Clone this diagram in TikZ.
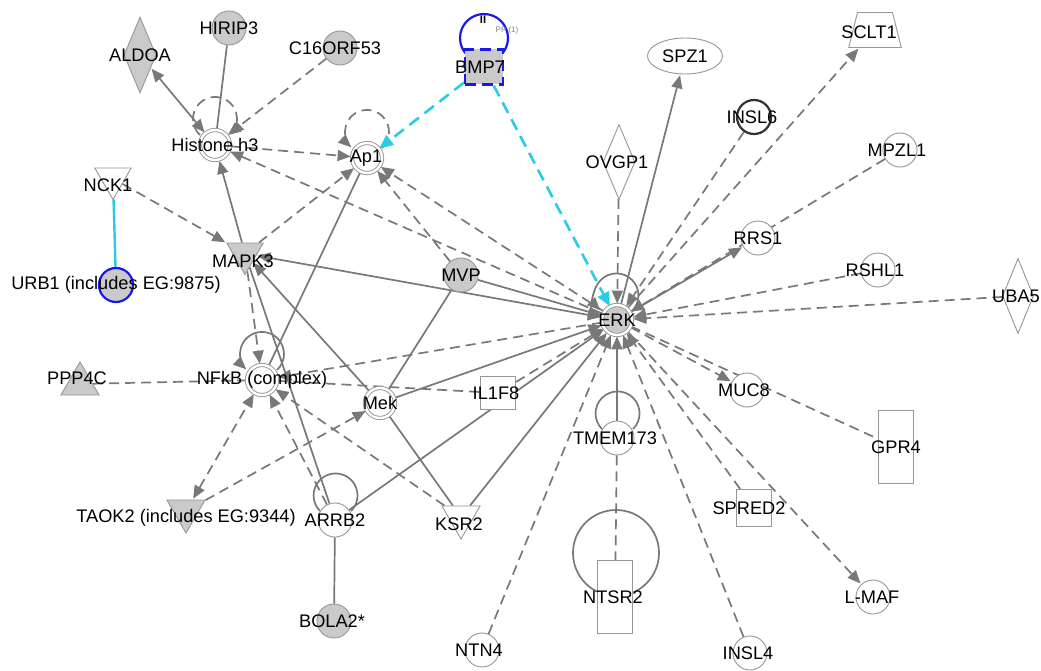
\documentclass[tikz,border=0pt]{standalone}
\usepackage{fontspec}
\setmainfont{Liberation Sans}
\usetikzlibrary{shapes.geometric,arrows.meta}
\definecolor{edgegray}{RGB}{120,120,120}
\definecolor{rimgray}{RGB}{150,150,150}
\definecolor{fillgray}{RGB}{202,202,202}
\definecolor{ipablue}{RGB}{25,25,235}
\definecolor{ipacyan}{RGB}{40,205,225}
\pgfdeclarelayer{background}
\pgfsetlayers{background,main}

\begin{document}
\begin{tikzpicture}[x=1pt,y=1pt,font=\fontsize{18.2}{21}\selectfont,
  gene/.style={draw=rimgray,line width=0.9pt,fill=white,inner sep=0pt},
  circ/.style={gene,circle,minimum size=34pt},
  cplx/.style={gene,circle,minimum size=30pt,double=white,double distance=2.4pt},
  tridown/.style={gene,regular polygon,regular polygon sides=3,shape border rotate=180,minimum size=42pt},
  triup/.style={gene,regular polygon,regular polygon sides=3,minimum size=44pt},
  dia/.style={gene,diamond,minimum width=32pt,minimum height=76pt},
  sq/.style={gene,rectangle,minimum width=35pt,minimum height=34pt},
  tall/.style={gene,rectangle,minimum width=35pt,minimum height=73pt},
  grey/.style={fill=fillgray},
  lbl/.style={inner sep=0pt,text=black},
  sline/.style={draw=edgegray,line width=1.7pt},
  dline/.style={sline,dash pattern=on 10pt off 6pt},
  cline/.style={draw=ipacyan,line width=2.6pt,dash pattern=on 12pt off 7pt},
  arr/.style={-{Triangle[length=13pt,width=11pt]},shorten >=1pt},
  darr/.style={{Triangle[length=13pt,width=11pt]}-{Triangle[length=13pt,width=11pt]},shorten >=1pt,shorten <=1pt}]

  \useasboundingbox (0,-671) rectangle (1041,0);

  % genes, top rows
  \node[dia,grey,label={[lbl]center:ALDOA}] (aldoa) at (140,-55) {};
  \node[circ,grey,label={[lbl]center:HIRIP3}] (hirip3) at (229,-28) {};
  \node[circ,grey,label={[lbl,xshift=-5pt]center:C16ORF53}] (c16) at (340,-48) {};
  \node[cplx,label={[lbl]center:Histone h3}] (hist) at (215,-145) {};
  \node[cplx,label={[lbl,xshift=-1pt]center:Ap1}] (ap1) at (367,-158) {};
  \node[gene,rectangle,grey,minimum width=38pt,minimum height=35pt,draw=ipablue,line width=2.2pt,
    dash pattern=on 11pt off 6pt,label={[lbl,xshift=-4pt]center:BMP7}] (bmp7) at (484,-67) {};
  \node[gene,ellipse,minimum width=75pt,minimum height=36pt,label={[lbl]center:SPZ1}] (spz1) at (685,-56) {};
  \node[gene,trapezium,inner sep=2pt,trapezium left angle=76,trapezium right angle=76,
    minimum width=35pt,minimum height=35pt,label={[lbl,xshift=-6pt,yshift=-2pt]center:SCLT1}] (sclt1) at (875,-30) {};
  \node[circ,draw=black!80,line width=2.2pt,label={[lbl,xshift=-2pt]center:INSL6}] (insl6) at (754,-117) {};
  \node[circ,label={[lbl,xshift=-3pt]center:MPZL1}] (mpzl1) at (900,-150) {};
  \node[dia,minimum height=75pt,label={[lbl,xshift=-2pt]center:OVGP1}] (ovgp1) at (619,-162) {};
  \node[tridown,label={[lbl,xshift=-5pt,yshift=-6.5pt]center:NCK1}] (nck1) at (113,-178.5) {};

  % genes, middle rows
  \node[circ,grey,draw=ipablue,line width=2.2pt,label={[lbl]center:{URB1 (includes EG:9875)}}] (urb1) at (116,-285) {};
  \node[tridown,grey,label={[lbl,xshift=-2pt,yshift=-7.5pt]center:MAPK3}] (mapk3) at (245,-253.5) {};
  \node[circ,grey,label={[lbl]center:MVP}] (mvp) at (461,-275) {};
  \node[cplx,grey,label={[lbl]center:ERK}] (erk) at (617,-320) {};
  \node[circ,label={[lbl]center:RRS1}] (rrs1) at (758,-238) {};
  \node[circ,label={[lbl,xshift=-3pt]center:RSHL1}] (rshl1) at (878,-270) {};
  \node[dia,minimum width=31pt,minimum height=75pt,label={[lbl,xshift=-2pt]center:UBA5}] (uba5) at (1018,-296) {};
  \node[triup,grey,label={[lbl,xshift=-3pt,yshift=6pt]center:PPP4C}] (ppp4c) at (80,-384) {};
  \node[cplx,label={[lbl]center:NFkB (complex)}] (nfkb) at (262,-380) {};
  \node[cplx,label={[lbl]center:Mek}] (mek) at (380,-403) {};
  \node[sq,minimum height=33pt,label={[lbl,xshift=-2pt]center:IL1F8}] (il1f8) at (498,-393) {};
  \node[circ,label={[lbl,xshift=-2pt]center:TMEM173}] (tmem) at (617,-438) {};
  \node[circ,label={[lbl,xshift=-3pt]center:MUC8}] (muc8) at (747,-390) {};
  \node[tall,label={[lbl]center:GPR4}] (gpr4) at (896,-447) {};

  % genes, bottom rows
  \node[sq,minimum height=37pt,label={[lbl,xshift=-5pt]center:SPRED2}] (spred2) at (754,-508) {};
  \node[circ,label={[lbl,xshift=-1pt]center:L-MAF}] (lmaf) at (873,-597) {};
  \node[circ,label={[lbl,xshift=-2pt]center:INSL4}] (insl4) at (750,-653) {};
  \node[circ,label={[lbl,xshift=-3pt]center:NTN4}] (ntn4) at (482,-650) {};
  \node[tall,label={[lbl,xshift=-2pt]center:NTSR2}] (ntsr2) at (615,-597) {};
  \node[tridown,minimum size=44pt,label={[lbl,xshift=-2pt,yshift=-7pt]center:KSR2}] (ksr2) at (461,-517) {};
  \node[circ,label={[lbl]center:ARRB2}] (arrb2) at (335,-520) {};
  \node[tridown,grey,minimum size=44pt,label={[lbl,yshift=-7pt]center:{TAOK2 (includes EG:9344)}}] (taok2) at (186,-511) {};
  \node[circ,grey,label={[lbl,xshift=-2pt]center:BOLA2*}] (bola2) at (334,-621) {};

  \node[lbl,font=\bfseries\fontsize{11}{11}\selectfont] (bmpmark) at (483,-20) {II};
  \node[lbl,text=gray,font=\fontsize{8}{8}\selectfont] (bmpnote) at (507,-30) {PP (1)};

  \begin{pgfonlayer}{background}
  \fill[white] (0,-671) rectangle (1041,0);
  % self loops
  \draw[ipablue,line width=2.2pt] (bmp7.center) ++(0,29) circle[radius=24];
  \draw[sline] (ntsr2.center) ++(1,44) circle[radius=43];
  \draw[dline,arr] (hist.center) ++(-15,10) arc[start angle=227,end angle=-47,radius=22];
  \draw[dline,arr] (ap1.center) ++(15,10) arc[start angle=-47,end angle=227,radius=22];
  \draw[sline,arr] (nfkb.center) ++(15,10) arc[start angle=-47,end angle=227,radius=22];
  \draw[sline,arr] (erk.center) ++(15,9) arc[start angle=-45,end angle=225,radius=22];
  \draw[sline] (tmem.center) ++(-15,9) arc[start angle=225,end angle=-45,radius=22];
  \draw[sline] (arrb2.center) ++(-15,9) arc[start angle=225,end angle=-45,radius=22];

  % left cluster
  \draw[sline,darr] (aldoa) -- (hist);
  \draw[sline] (hirip3) -- (hist);
  \draw[dline,arr] (c16) -- (hist);
  \draw[dline,arr] (hist) -- (ap1);
  \draw[sline,arr] (mapk3) -- (hist);
  \draw[dline,arr] (mapk3) -- (ap1);
  \draw[sline] (nfkb) -- (ap1);
  \draw[dline,arr] (mvp) -- (ap1);
  \draw[cline,-{Triangle[length=14pt,width=12pt]}] (bmp7) -- (ap1);
  \draw[cline,-{Triangle[length=14pt,width=12pt]}] (bmp7) -- (erk);
  \draw[dline,arr] (nck1) -- (mapk3);
  \draw[draw=ipacyan,line width=2.4pt] (nck1) -- (urb1);
  \draw[dline,arr] (mapk3) -- (nfkb);
  \draw[sline] (mapk3) -- (arrb2);
  \draw[sline,arr] (mek) -- (mapk3);
  \draw[sline] (mek) -- (mvp);
  \draw[sline] (mek) -- (ksr2);
  \draw[dline] (ppp4c) -- (nfkb);
  \draw[dline] (nfkb) -- (il1f8);
  \draw[dline,arr] (ksr2) -- (nfkb);
  \draw[dline,darr] (taok2) -- (nfkb);
  \draw[dline,arr] (taok2) -- (mek);
  \draw[dline,arr] (arrb2) -- (nfkb);
  \draw[sline] (arrb2) -- (bola2);

  % ERK hub
  \draw[dline,arr] (erk) -- (hist);
  \draw[dline,arr] (erk) -- (ap1);
  \draw[dline,arr] (erk) -- (nfkb);
  \draw[sline,darr] (mapk3) -- (erk);
  \draw[sline,arr] (mvp) -- (erk);
  \draw[sline,arr] (mek) -- (erk);
  \draw[sline,arr] (ksr2) -- (erk);
  \draw[sline,arr] (arrb2) -- (erk);
  \draw[dline,arr] (il1f8) -- (erk);
  \draw[dline,arr] (ovgp1) -- (erk);
  \draw[sline,arr] (erk) -- (spz1);
  \draw[dline,arr] (insl6) -- (erk);
  \draw[dline,arr] (erk) -- (sclt1);
  \draw[dline,arr] (mpzl1) -- (erk);
  \draw[sline,arr] (erk) -- (rrs1);
  \draw[dline,arr] (rshl1) -- (erk);
  \draw[dline,arr] (uba5) -- (erk);
  \draw[dline,arr] (erk) -- (muc8);
  \draw[dline] (erk) -- (gpr4);
  \draw[dline,arr] (erk) -- (lmaf);
  \draw[dline,arr] (spred2) -- (erk);
  \draw[dline,arr] (insl4) -- (erk);
  \draw[sline,arr] (tmem) -- (erk);
  \draw[dline] (tmem) -- (ntsr2);
  \draw[dline,arr] (ntn4) -- (erk);
  \end{pgfonlayer}
\end{tikzpicture}
\end{document}
